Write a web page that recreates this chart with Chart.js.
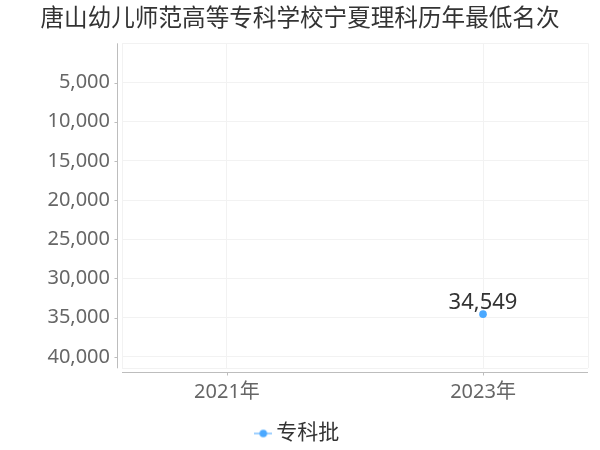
<!DOCTYPE html>
<html>
<head>
<meta charset="utf-8">
<script src="https://cdn.jsdelivr.net/npm/chart.js@4/dist/chart.umd.min.js"></script>
<style>
  html, body { margin: 0; padding: 0; background: #fff; }
  #wrap { width: 600px; height: 450px; }
</style>
</head>
<body>
<div id="wrap"><canvas id="c" width="600" height="450"></canvas></div>
<script>
const titleText = '唐山幼儿师范高等专科学校宁夏理科历年最低名次';
const categories = ['2021年', '2023年'];
const seriesName = '专科批';
const seriesValues = [null, 34549];
const yTickValues = [5000, 10000, 15000, 20000, 25000, 30000, 35000, 40000];

const FONT = "'Noto Sans', 'Noto Sans CJK SC', sans-serif";
Chart.defaults.font.family = FONT;

const yMax = Math.max(...seriesValues.filter(v => v !== null)) * 1.2;
const xMin = -0.41, xMax = categories.length - 1 + 0.41;

// legend icon: line + dot
const icon = document.createElement('canvas');
icon.width = 18; icon.height = 10;
(function () {
  const g = icon.getContext('2d');
  g.strokeStyle = '#9fd0ff'; g.lineWidth = 2;
  g.beginPath(); g.moveTo(0, 5); g.lineTo(18, 5); g.stroke();
  g.fillStyle = '#4aa8ff';
  g.beginPath(); g.arc(9, 5, 3.8, 0, Math.PI * 2); g.fill();
})();

const axisPlugin = {
  id: 'axisLines',
  beforeDatasetsDraw(chart) {
    const { ctx, chartArea: a, scales: { x, y } } = chart;
    ctx.save();
    ctx.strokeStyle = '#bdbdbd';
    ctx.lineWidth = 1;
    const yx = Math.round(a.left - 5) + 0.5;
    ctx.beginPath(); ctx.moveTo(yx, a.top); ctx.lineTo(yx, a.bottom); ctx.stroke();
    yTickValues.forEach(v => {
      const py = Math.round(y.getPixelForValue(v)) + 0.5;
      ctx.beginPath(); ctx.moveTo(yx, py); ctx.lineTo(yx - 3, py); ctx.stroke();
    });
    const xy = Math.round(a.bottom + 4) + 0.5;
    ctx.beginPath(); ctx.moveTo(a.left, xy); ctx.lineTo(a.right, xy); ctx.stroke();
    categories.forEach((c, i) => {
      const px = Math.round(x.getPixelForValue(i)) + 0.5;
      ctx.beginPath(); ctx.moveTo(px, xy); ctx.lineTo(px, xy + 3); ctx.stroke();
    });
    ctx.restore();
  }
};

const labelPlugin = {
  id: 'valueLabels',
  afterDatasetsDraw(chart) {
    const { ctx } = chart;
    ctx.save();
    ctx.font = '22px ' + FONT;
    ctx.fillStyle = '#333';
    ctx.textAlign = 'center';
    ctx.textBaseline = 'alphabetic';
    chart.getDatasetMeta(0).data.forEach((pt, i) => {
      const v = seriesValues[i];
      if (v === null) return;
      ctx.fillText(v.toLocaleString('en-US'), pt.x, pt.y - 5);
    });
    ctx.restore();
  }
};

new Chart(document.getElementById('c'), {
  type: 'line',
  data: {
    datasets: [{
      label: seriesName,
      data: seriesValues.map((v, i) => ({ x: i, y: v })),
      borderColor: '#9fd0ff',
      backgroundColor: '#4aa8ff',
      pointBackgroundColor: '#4aa8ff',
      pointBorderWidth: 0,
      pointRadius: 3.8,
      borderWidth: 2,
      spanGaps: false
    }]
  },
  options: {
    responsive: false,
    animation: false,
    devicePixelRatio: 1,
    layout: { padding: { left: 0, right: 0, top: 0, bottom: -4 } },
    plugins: {
      title: {
        display: true,
        text: titleText,
        color: '#333',
        font: { size: 23.6, weight: 'normal' },
        padding: { top: 5, bottom: 10 }
      },
      legend: {
        display: true,
        position: 'bottom',
        labels: {
          usePointStyle: true,
          pointStyle: icon,
          pointStyleWidth: 5,
          color: '#333',
          font: { size: 21 },
          padding: 10
        }
      },
      tooltip: { enabled: false }
    },
    scales: {
      x: {
        type: 'linear',
        min: xMin,
        max: xMax,
        afterBuildTicks(s) {
          s.ticks = [xMin, ...categories.map((c, i) => i), xMax].map(v => ({ value: v }));
        },
        afterFit(s) { s.height = 44.7; },
        grid: { color: '#f2f2f2', drawTicks: false },
        border: { display: false },
        ticks: {
          color: '#666',
          font: { size: 20 },
          padding: 12,
          maxRotation: 0,
          autoSkip: false,
          callback(v) {
            return Number.isInteger(v) && categories[v] !== undefined ? categories[v] : '';
          }
        }
      },
      y: {
        type: 'linear',
        reverse: true,
        min: 0,
        max: yMax,
        afterBuildTicks(s) {
          s.ticks = [0, ...yTickValues, yMax].map(v => ({ value: v }));
        },
        afterFit(s) { s.width = 122; },
        grid: { color: '#f2f2f2', drawTicks: false },
        border: { display: false },
        ticks: {
          color: '#666',
          font: { size: 20 },
          padding: 12,
          autoSkip: false,
          callback(v) {
            return yTickValues.includes(v) ? v.toLocaleString('en-US') : '';
          }
        }
      },
      rightSpace: {
        type: 'linear',
        position: 'right',
        display: true,
        afterFit(s) { s.width = 12; },
        grid: { display: false, drawTicks: false },
        border: { display: false },
        ticks: { display: false }
      }
    }
  },
  plugins: [axisPlugin, labelPlugin]
});
</script>
</body>
</html>
